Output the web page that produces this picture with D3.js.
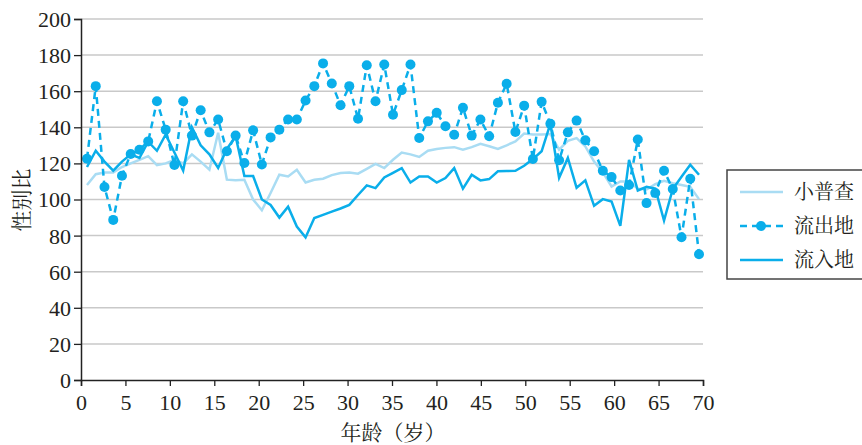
<!DOCTYPE html>
<html>
<head>
<meta charset="utf-8">
<script src="https://cdn.jsdelivr.net/npm/d3@7"></script>
<style>
  body { margin: 0; background: #fff; }
  svg { display: block; }
</style>
</head>
<body>
<svg id="chart" width="862" height="445"></svg>
<script>
(function () {
    'use strict';

    // ages 0..70, one value per age
    var ages = d3.range(0, 71);
    var xTicks = [0, 5, 10, 15, 20, 25, 30, 35, 40, 45, 50, 55, 60, 65, 70];
    var yTicks = [0, 20, 40, 60, 80, 100, 120, 140, 160, 180, 200];
    var seriesNames = ["小普查", "流出地", "流入地"];

    var census = [108, 114, 115, 115, 118, 120, 122, 124, 119, 120,
        122, 120, 125, 121, 116.5, 137, 111, 110.6, 110.9, 100,
        94, 103.6, 113.7, 112.8, 116.5, 109.4, 110.9, 111.5, 113.5, 114.7,
        115, 114.3, 117, 119.7, 117.4, 122, 126, 125, 123.6, 127,
        128, 128.6, 129, 127.6, 129, 130.8, 129.5, 128, 130, 132.2,
        136.5, 136, 136, 136.3, 127.6, 132.5, 134, 129.4, 121, 115,
        107.2, 110, 110, 106, 105.5, 108.5, 110.4, 109, 108, 107,
        100.2];

    var outflow = [122.6, 162.8, 106.9, 88.7, 113.2, 125.2, 127.6, 132.2, 154.4, 138.7,
        119.1, 154.4, 135.4, 149.4, 137.2, 144.3, 126.7, 135.4, 120.2, 138.3,
        119.4, 134.4, 138.7, 144.3, 144.3, 154.8, 162.8, 175.4, 164.3, 152.2,
        162.8, 144.7, 174.4, 154.4, 174.8, 147, 160.6, 174.8, 134.1, 143.3,
        148, 140.6, 135.9, 150.8, 135.4, 144.3, 135, 153.6, 164.1, 137.4,
        152, 122.4, 154.1, 141.9, 121.7, 137.2, 143.7, 132.8, 126.7, 115.9,
        112.4, 105, 108, 133.2, 98, 103.6, 115.9, 105.8, 79.1, 111.5,
        69.7];

    var inflow = [118, 127, 121, 116, 121, 125, 123, 132, 127, 136,
        126, 116, 140, 130, 125, 117.5, 128, 135, 113, 113,
        100, 97, 90, 96, 85, 79, 89.7, 91.5, 93.3, 95,
        97, 102.5, 107.8, 106.3, 112.2, 114.8, 117.4, 109.4, 112.8, 112.8,
        109.4, 111.9, 117.4, 106, 113.7, 110.6, 111.3, 115.6, 115.8, 115.9,
        118.7, 122.4, 126.7, 142, 112, 123, 106.5, 110.6, 96.5, 100.2,
        98.9, 85.4, 122, 105, 107, 106, 88.3, 105.8, 112.6, 119.3,
        113.7];

    var blue = "#0aaeea";
    var lightBlue = "#a9dcf3";
    var numFont = "'Liberation Serif', 'Times New Roman', serif";
    var cjkFont = "'Noto Serif CJK SC', 'Noto Sans CJK SC', serif";

    var svg = d3.select("#chart");
    var left = 81, right = 703, top = 19, bottom = 380;

    var x = d3.scaleLinear().domain([0, 70]).range([left, right]);
    var xPt = d3.scalePoint().domain(ages).range([87, 699]);
    var y = d3.scaleLinear().domain([0, 200]).range([bottom, top]);

    // grid
    svg.append("g")
        .selectAll("line")
        .data(yTicks.filter(function (d) { return d > 0; }))
        .enter()
        .append("line")
        .attr("x1", left)
        .attr("x2", right)
        .attr("y1", function (d) { return y(d); })
        .attr("y2", function (d) { return y(d); })
        .style("stroke", "#c9c9c9")
        .style("stroke-width", "1.5px");

    var line = function (vals) {
        return d3.line()
            .x(function (d, i) { return xPt(ages[i]); })
            .y(function (d) { return y(d); })(vals);
    };

    svg.append("path")
        .attr("d", line(census))
        .style("fill", "none")
        .style("stroke", lightBlue)
        .style("stroke-width", "2.5px");

    svg.append("path")
        .attr("d", line(inflow))
        .style("fill", "none")
        .style("stroke", blue)
        .style("stroke-width", "2.5px");

    svg.append("path")
        .attr("d", line(outflow))
        .style("fill", "none")
        .style("stroke", blue)
        .style("stroke-width", "2.5px")
        .style("stroke-dasharray", "7,5");

    svg.append("g")
        .selectAll("circle")
        .data(outflow)
        .enter()
        .append("circle")
        .attr("cx", function (d, i) { return xPt(ages[i]); })
        .attr("cy", function (d) { return y(d); })
        .attr("r", 5)
        .style("fill", blue);

    // axes
    var xAxis = svg.append("g")
        .attr("transform", "translate(0," + bottom + ")")
        .call(d3.axisBottom(x).tickValues(xTicks).tickSize(6).tickPadding(6));
    var yAxis = svg.append("g")
        .attr("transform", "translate(" + left + ",0)")
        .call(d3.axisLeft(y).tickValues(yTicks).tickSize(7).tickPadding(3));

    [xAxis, yAxis].forEach(function (a) {
        a.select(".domain").style("stroke", "#222").style("stroke-width", "1.5px");
        a.selectAll(".tick line").style("stroke", "#222").style("stroke-width", "1.3px");
        a.selectAll(".tick text")
            .style("font-family", numFont)
            .style("font-size", "22px")
            .style("fill", "#231f20");
    });
    yAxis.selectAll(".tick text").attr("dy", "0.34em");
    xAxis.selectAll(".tick text").attr("dy", "0.8em");

    svg.append("text")
        .attr("transform", "translate(29,200) rotate(-90)")
        .attr("text-anchor", "middle")
        .style("font-family", cjkFont)
        .style("font-size", "21px")
        .style("fill", "#231f20")
        .text("性别比");

    svg.append("text")
        .attr("x", 393)
        .attr("y", 440)
        .attr("text-anchor", "middle")
        .style("font-family", cjkFont)
        .style("font-size", "21px")
        .style("fill", "#231f20")
        .text("年龄（岁）");

    // legend
    var lg = svg.append("g");
    lg.append("rect")
        .attr("x", 727)
        .attr("y", 170)
        .attr("width", 150)
        .attr("height", 109)
        .style("fill", "#fff")
        .style("stroke", "#444")
        .style("stroke-width", "1.5px");

    var legendY = [192, 226, 260];
    var items = lg.selectAll("g.item")
        .data(seriesNames)
        .enter()
        .append("g")
        .attr("class", "item")
        .attr("transform", function (d, i) { return "translate(0," + legendY[i] + ")"; });

    items.append("line")
        .attr("x1", 740)
        .attr("x2", 783)
        .style("stroke", function (d, i) { return i === 0 ? lightBlue : blue; })
        .style("stroke-width", "2.5px")
        .style("stroke-dasharray", function (d, i) { return i === 1 ? "7,5" : null; });

    items.filter(function (d, i) { return i === 1; })
        .append("circle")
        .attr("cx", 761)
        .attr("r", 5)
        .style("fill", blue);

    items.append("text")
        .attr("x", 794)
        .attr("dy", "0.35em")
        .style("font-family", cjkFont)
        .style("font-size", "20px")
        .style("fill", "#231f20")
        .text(function (d) { return d; });
}());
</script>
</body>
</html>
